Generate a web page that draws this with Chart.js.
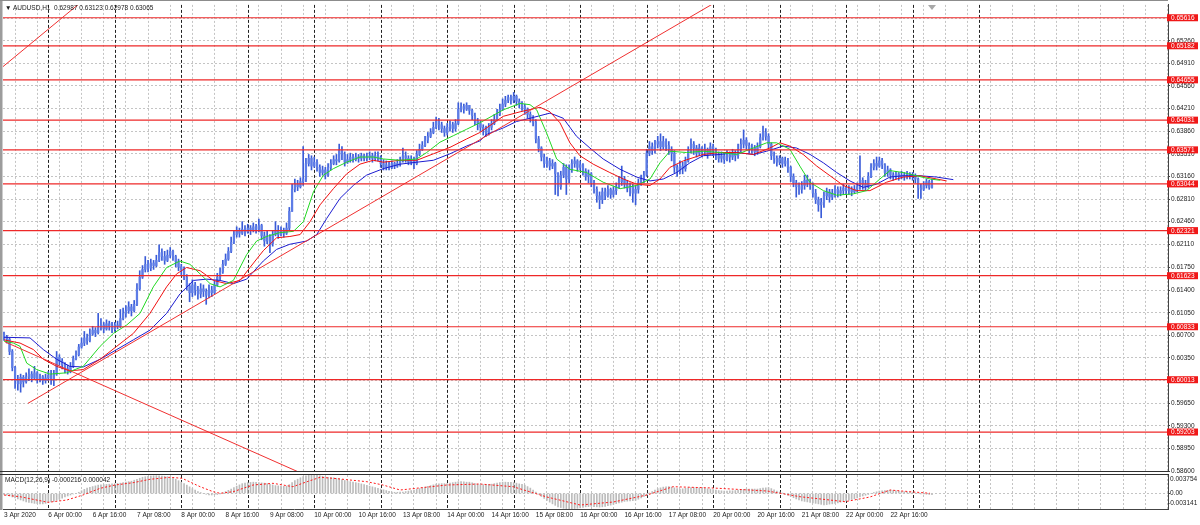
<!DOCTYPE html>
<html><head><meta charset="utf-8">
<script src="https://cdn.jsdelivr.net/npm/chart.js@4.4.1/dist/chart.umd.min.js"></script>
<style>
html,body{margin:0;padding:0;background:#fff;width:1200px;height:525px;overflow:hidden;}
#wrap{position:relative;width:1200px;height:525px;}
canvas{position:absolute;left:0;}
#main{top:0;width:1200px;height:480px;}
#macd{top:472px;width:1200px;height:53px;}
.lbl{position:absolute;font:6.5px "Liberation Sans",Arial,sans-serif;color:#1a1a1a;white-space:pre;line-height:8px;}
</style></head>
<body><div id="wrap">
<canvas id="main" width="1200" height="480"></canvas>
<canvas id="macd" width="1200" height="53"></canvas>
<div class="lbl" style="left:5px;top:4px">▼ AUDUSD,H1  0.62987 0.63123 0.62978 0.63065</div>
<div class="lbl" style="left:5px;top:476px">MACD(12,26,9) -0.000216 0.000042</div>
</div>
<script>
// ---------- DATA (prices in pips relative to 0.6000; bar index = hourly bar from 3 Apr 08:00) ----------
const BASE = 0.6, PIP = 0.0001;
const openFirstPips = 72;
const closePips = [68,64,45,20,0,-5,5,-2,6,10,4,12,2,6,0,4,8,2,10,36,
30,24,18,14,22,34,40,52,58,66,62,72,78,74,82,86,80,88,84,80,
86,84,96,104,108,114,108,118,142,160,172,180,174,182,178,186,198,192,186,194,
200,192,184,176,172,160,146,136,148,140,134,142,138,132,140,136,148,160,168,180,
188,200,214,226,232,228,234,230,236,232,238,234,240,224,216,222,212,226,232,226,
232,228,236,262,296,304,300,308,312,336,344,332,338,330,322,326,318,330,336,342,
340,356,350,338,342,346,342,346,344,348,344,346,348,344,348,346,336,330,334,330,
336,332,336,340,348,344,338,342,336,350,358,364,372,378,384,392,402,396,390,384,
392,396,390,398,420,424,420,426,418,410,402,398,392,388,384,392,398,404,412,420,
428,434,438,434,440,432,428,424,420,412,406,400,374,360,346,336,340,332,336,320,
300,318,330,312,326,336,340,330,334,324,316,320,306,296,286,280,292,286,296,288,
294,300,308,312,304,298,300,290,296,306,312,318,352,362,356,366,370,362,370,364,
358,352,330,324,332,328,340,356,366,360,352,360,354,358,350,362,356,350,344,348,
342,350,346,352,348,358,366,372,364,358,360,354,362,376,384,378,366,348,344,338,
344,336,340,330,316,306,300,296,302,310,306,302,290,280,272,276,286,292,284,290,
296,290,294,298,294,296,292,296,300,310,304,300,316,330,336,332,340,334,322,326,
318,316,320,316,318,316,320,318,316,312,298,296,302,308,299,306];
const highPips = [75,70,66,48,22,8,10,8,12,18,14,22,14,10,8,10,14,16,16,45,
40,34,28,24,28,38,46,56,66,76,72,80,84,82,104,96,90,94,92,90,
90,92,110,112,116,122,118,124,150,170,178,192,186,188,186,194,210,204,200,202,
206,202,194,188,180,176,164,150,156,152,146,150,148,142,148,146,154,166,174,186,
196,206,222,232,238,236,246,240,242,240,244,242,250,242,230,232,226,232,246,240,
238,236,244,268,304,312,310,314,362,344,350,348,346,342,334,332,330,336,342,348,
350,366,362,354,350,352,350,352,350,352,350,352,354,352,354,354,348,342,340,338,
340,338,342,346,360,354,348,348,346,356,366,370,378,384,390,400,408,406,400,394,
398,402,400,404,430,430,428,430,426,420,414,406,402,396,394,398,404,412,420,428,
436,440,442,442,446,442,436,432,428,422,416,410,404,378,362,350,346,344,342,338,
322,324,336,334,334,342,346,342,340,336,328,326,322,310,300,292,298,298,302,298,
300,306,316,332,316,310,306,304,302,312,318,324,358,370,368,372,378,382,378,374,
370,362,356,334,340,338,346,362,374,370,364,366,362,366,360,368,366,360,354,354,
352,356,354,358,356,366,374,388,376,368,366,364,368,382,394,390,382,368,354,348,
348,346,346,344,332,320,310,306,308,318,318,312,306,296,284,282,292,298,296,296,
302,300,300,304,300,302,300,302,306,348,314,310,322,336,342,346,346,344,336,332,
328,322,324,322,324,322,324,322,322,320,314,304,308,312,310,312];
const lowPips = [62,58,40,15,-12,-15,-18,-10,-4,0,-2,2,-4,-2,-6,-4,0,-6,-8,8,
24,18,12,10,12,20,32,38,50,54,56,60,70,68,72,78,74,78,78,74,
76,80,82,94,98,104,100,106,116,140,158,168,168,170,172,176,184,186,180,184,
190,186,176,170,164,156,140,122,130,132,126,128,130,118,128,130,134,146,156,166,
178,186,198,212,222,222,226,224,228,226,230,228,230,218,208,212,198,208,224,220,
224,222,226,232,262,292,294,298,302,308,332,326,330,324,316,318,312,316,326,334,
334,338,342,332,336,338,338,340,338,340,340,340,342,338,340,340,330,326,326,326,
328,328,330,332,338,338,334,334,328,334,348,356,362,368,376,382,390,388,384,378,
380,386,384,386,396,416,414,418,412,404,396,388,386,380,378,380,388,396,402,410,
418,424,430,428,430,426,422,418,412,406,400,394,368,354,340,330,330,326,328,288,
286,296,314,288,306,322,330,324,326,318,310,306,300,290,276,266,274,280,284,282,
284,288,298,302,298,292,286,276,272,290,302,306,316,348,350,352,360,356,358,356,
350,340,322,316,320,320,324,338,352,350,346,348,346,348,344,350,348,342,338,338,
336,340,338,342,340,344,354,360,358,352,352,348,350,360,372,372,360,342,336,332,
334,330,332,322,308,300,284,288,290,296,300,296,284,274,262,252,268,280,276,280,
284,284,286,288,288,288,286,290,292,296,296,294,298,314,326,326,330,328,316,316,
312,310,312,310,312,310,312,312,310,306,282,282,294,298,296,298];

// Alligator-style moving averages: [bar position], [pips]
const lipsX = [0,3.4,5.8,8.2,11.8,16.6,22.6,28.6,34.7,39.5,44.3,49.1,53.9,58.7,63.5,67.1,70.8,74.4,78,82.8,87.6,91.2,94.8,99.6,104.5,108.1,111.7,115.3,118.9,123.7,128.5,133.3,136.9,143,149,152.6,157.4,162.2,167,171.8,180.2,186.3,189.9,192.3,195.9,199.5,204.3,210.3,216.3,222.4,228.4,233.2,236.8,240.4,246.4,252.4,258.5,264.5,270.5,275.3,278.9,283.7,287.3,290.9,295.8,300.6,306.6,311.4,316.2,319.8,324.6,329.4,334.3,338];
const lipsPips = [61,58,53,27,17,10,12,22,53,73,86,104,145,175,185,180,165,150,145,155,195,216,223,229,231,246,292,318,328,338,346,346,343,341,343,353,369,379,389,399,419,429,427,419,383,343,327,322,307,297,302,312,337,355,353,355,353,350,360,368,368,358,332,307,294,287,289,294,312,325,322,317,312,310];
const teethX = [0,5.8,10.6,14.2,19,23.8,28.6,34.7,40.7,46.7,52.7,58.7,62.3,65.9,70.8,75.6,80.4,85.2,88.8,93.6,98.4,103.2,106.9,110.5,114.1,118.9,123.7,128.5,133.3,136.9,143,149,155,161,167,171.8,180.2,186.3,193.5,197.1,200.7,204.3,207.9,212.7,218.7,223.6,228.4,233.2,236.8,240.4,245.2,252.4,258.5,264.5,270.5,276.5,280.1,283.7,288.5,293.4,298.2,303,307.8,312.6,318.6,324.6,330.7,336.7,340.3];
const teethPips = [63,58,48,33,22,15,17,33,53,73,104,145,165,175,170,155,150,155,175,201,221,223,226,246,272,297,320,335,341,338,341,341,351,361,374,384,409,416,423,416,399,368,348,335,322,312,304,302,312,330,340,350,353,353,350,360,368,363,350,332,317,302,294,294,307,315,317,312,309];
const jawX = [0,9.4,14.2,19,23.8,28.6,34.7,40.7,46.7,52.7,58.7,63.5,68.4,73.2,78,82.8,87.6,93.6,98.4,103.2,109.3,112.9,116.5,121.3,126.1,130.9,136.9,143,149,155,161,167,171.8,174.2,180.2,185,189.9,197.1,201.9,206.7,211.5,216.3,222.4,228.4,233.2,238,242.8,247.6,252.4,258.5,264.5,270.5,275.3,281.3,286.1,291,295.8,300.6,305.4,310.2,315,319.8,324.6,330.7,336.7,342.7];
const jawPips = [67,66,48,33,22,21,33,48,63,78,104,134,155,157,155,150,157,185,203,211,216,226,251,282,302,318,328,335,338,341,351,363,371,381,391,401,406,414,406,378,360,343,327,315,309,312,322,337,348,350,353,350,355,363,360,350,337,322,309,299,304,315,317,317,315,311];

// Horizontal levels and trend lines
const levelPrices = [0.65616,0.65182,0.64655,0.64031,0.63571,0.63044,0.62321,0.61623,0.60833,0.60013,0.59203];
const trendBars = [[8.66,260],[-0.36,30],[0.36,110]];
const trendPrices = [[0.59648,0.65934],[0.64860,0.65935],[0.60599,0.58515]];

// MACD(12,26,9): main values per bar (x1e-6) and signal line points
const macdMain = [-200,-350,-500,-700,-900,-1100,-1300,-1500,-1700,-1800,-1900,-2000,-2050,-2100,-2100,-2000,
-1850,-1700,-1600,-1350,-1150,-950,-700,-500,-300,-100,0,250,550,850,1100,1250,
1400,1550,1700,1750,1800,1850,1900,1950,2000,2050,2100,2200,2300,2400,2500,2700,
2900,3100,3300,3400,3500,3550,3600,3620,3600,3550,3500,3400,3250,3100,2900,2600,
2300,2000,1700,1350,1000,700,400,200,0,-150,-300,-300,-250,-200,-100,150,
400,650,900,1200,1500,1750,2000,2100,2200,2250,2300,2250,2200,2150,2100,2000,
1850,1750,1600,1550,1500,1450,1500,1800,2200,2600,2900,3200,3450,3600,3700,3740,
3754,3700,3600,3500,3400,3300,3250,3200,3100,3000,2800,2650,2500,2400,2300,2200,
2100,1950,1800,1650,1500,1350,1200,1050,900,750,600,450,300,250,250,280,
300,400,500,600,700,850,1000,1150,1300,1450,1600,1750,1900,1950,2000,2000,
2000,2100,2200,2300,2400,2400,2350,2300,2300,2150,2000,1900,1800,1800,1850,1850,
1900,2000,2100,2200,2300,2300,2250,2250,2200,2100,1950,1850,1700,1400,1100,700,
300,-150,-600,-1000,-1400,-1750,-2100,-2400,-2700,-2850,-3000,-3100,-3141,-3100,-3050,-3000,
-2900,-2800,-2700,-2650,-2600,-2650,-2700,-2750,-2700,-2600,-2450,-2350,-2200,-2050,-1900,-1750,
-1600,-1550,-1500,-1450,-1400,-1150,-900,-600,-300,50,400,700,1000,1150,1300,1350,
1400,1300,1150,1000,900,950,1050,1150,1200,1200,1150,1150,1100,1050,950,900,
800,700,600,550,500,500,550,550,600,700,800,850,900,900,900,900,
900,1000,1100,1150,1200,1000,750,500,300,50,-150,-400,-600,-850,-1100,-1300,
-1500,-1600,-1700,-1800,-1900,-2000,-2100,-2200,-2300,-2250,-2150,-2100,-2000,-1900,-1750,-1600,
-1500,-1350,-1200,-1050,-900,-700,-500,-350,-200,0,200,350,500,550,600,650,
700,650,550,450,400,350,300,250,200,100,0,-50,-100,-150,-200,-216];
const signalX = [0,5.8,15.9,22.7,28.5,34.7,40.1,46.6,52.7,59.9,64.3,70.8,75.5,78,82.7,89.9,97.1,104.3,109.4,114.1,118.8,124.9,131,136.8,143,159.9,171.8,183.8,196,208,219.9,232.1,241.5,256,275.5,287.4,303.6,312.6,319.9,327.1,334.3];
const signalVals = [-305,-650,-1786,-1320,-305,1056,1726,2192,2883,3289,3086,1380,365,40,365,1726,2070,1380,2395,3289,3086,2740,2395,1726,710,1726,1929,1380,-710,-2335,-1726,-305,1380,1117,508,-650,-1665,-710,710,365,42];

// Axis ticks
const priceTicks = [0.65610,0.65260,0.64910,0.64560,0.64210,0.63860,0.63510,0.63160,0.62810,0.62460,0.62110,0.61750,0.61400,0.61050,0.60700,0.60350,0.60000,0.59650,0.59300,0.58950,0.58600];
const labelBars = [0,16,32,48,64,80,96,112,128,144,160,176,192,208,224,240,256,272,288,304,320];
const labelTexts = ['3 Apr 2020','6 Apr 00:00','6 Apr 16:00','7 Apr 08:00','8 Apr 00:00','8 Apr 16:00','9 Apr 08:00','10 Apr 00:00','10 Apr 16:00','13 Apr 08:00','14 Apr 00:00','14 Apr 16:00','15 Apr 08:00','16 Apr 00:00','16 Apr 16:00','17 Apr 08:00','20 Apr 00:00','20 Apr 16:00','21 Apr 08:00','22 Apr 00:00','22 Apr 16:00'];
const daySepBars = [16,40,64,88,112,136,160,184,208,232,256,280,304,328,352];
const macdAxisValues = [0.003754, 0, -0.003141];
const macdAxisLabels = ['0.003754','0.00','-0.003141'];

// ---------- CHART ----------
const XMIN = -0.36, XMAX = 420.2, YMIN = 0.5860, YMAX = 0.65815;
const gridBars = []; for (let b = 8; b <= 416; b += 8) gridBars.push(b);
const toPrice = p => BASE + p * PIP;
const FONT = '"Liberation Sans", Arial, sans-serif';
Chart.defaults.font.family = FONT;
Chart.defaults.font.size = 6.5;
Chart.defaults.color = '#1a1a1a';
const GRID = '#c4c4c4';

const daySeparators = {
  id: 'daySeparators',
  beforeDatasetsDraw(chart) {
    const {ctx, chartArea: a, scales: {x}} = chart;
    ctx.save(); ctx.strokeStyle = '#222'; ctx.lineWidth = 1; ctx.setLineDash([3, 2]);
    daySepBars.forEach(b => {
      const px = Math.round(x.getPixelForValue(b)) + 0.5;
      if (px < a.left || px > a.right) return;
      ctx.beginPath(); ctx.moveTo(px, a.top); ctx.lineTo(px, a.bottom); ctx.stroke();
    });
    ctx.restore();
  }
};

const mainDecor = {
  id: 'mainDecor',
  afterDraw(chart) {
    const {ctx, chartArea: a, scales: {x, y}} = chart;
    ctx.save();
    ctx.font = '6.5px ' + FONT; ctx.textBaseline = 'middle'; ctx.textAlign = 'left';
    levelPrices.forEach(p => {
      const py = y.getPixelForValue(p);
      ctx.fillStyle = '#f01818'; ctx.fillRect(a.right - 1, py - 3.5, 31, 7);
      ctx.fillStyle = '#ffffff'; ctx.fillText(p.toFixed(5), a.right + 3, py + 0.5);
    });
    // frame
    ctx.fillStyle = '#9c9c9c'; ctx.fillRect(0, 0, 2.5, a.bottom + 1);
    ctx.fillStyle = '#8c8c8c'; ctx.fillRect(0, 0, a.right, 1);
    ctx.fillStyle = '#303030'; ctx.fillRect(0, a.bottom, a.right + 1, 1);
    // chart shift marker above last bar
    const sx = x.getPixelForValue(closePips.length - 1);
    ctx.fillStyle = '#a8a8a8'; ctx.beginPath(); ctx.moveTo(sx - 4, a.top); ctx.lineTo(sx + 4, a.top); ctx.lineTo(sx, a.top + 5); ctx.closePath(); ctx.fill();
    ctx.restore();
  }
};

const macdDecor = {
  id: 'macdDecor',
  afterDraw(chart) {
    const {ctx, chartArea: a, scales: {y}} = chart;
    ctx.save();
    ctx.font = '6.5px ' + FONT; ctx.textBaseline = 'middle'; ctx.textAlign = 'left'; ctx.fillStyle = '#1a1a1a';
    macdAxisValues.forEach((v, i) => {
      let py = y.getPixelForValue(v);
      py = Math.min(Math.max(py, a.top + 4), a.bottom - 6);
      ctx.fillText(macdAxisLabels[i], a.right + (v < 0 ? 0 : 2), py);
    });
    ctx.fillStyle = '#9c9c9c'; ctx.fillRect(0, 0, 2.5, a.bottom + 1);
    ctx.fillStyle = '#303030'; ctx.fillRect(0, a.top - 1, a.right + 1, 1);
    ctx.restore();
  }
};

const baseOpts = {
  responsive: false, animation: false, devicePixelRatio: 1, events: [],
  plugins: {legend: {display: false}, tooltip: {enabled: false}}
};

const lineDs = (xs, ys, color, order) => ({
  type: 'line', data: xs.map((v, i) => ({x: v, y: toPrice(ys[i])})),
  borderColor: color, borderWidth: 1, pointRadius: 0, tension: 0, order
});

const mainDatasets = [
  {type: 'bar', data: closePips.map((c, i) => ({x: i, y: [toPrice(lowPips[i]), toPrice(highPips[i])]})),
   backgroundColor: '#3a5cd8', barThickness: 1, minBarLength: 1, grouped: false, order: 6},
  {type: 'bar', data: closePips.map((c, i) => ({x: i, y: [toPrice(i ? closePips[i - 1] : openFirstPips), toPrice(c)]})),
   backgroundColor: '#5d7ce6', barThickness: 1.6, minBarLength: 1, grouped: false, order: 5},
  lineDs(jawX, jawPips, '#1c1cd0', 4),
  lineDs(teethX, teethPips, '#f01010', 3),
  lineDs(lipsX, lipsPips, '#22d822', 2),
  ...levelPrices.map(p => ({type: 'line', data: [{x: XMIN, y: p}, {x: XMAX, y: p}],
     borderColor: '#ee2828', borderWidth: 1.2, pointRadius: 0, order: 1})),
  ...trendBars.map((bx, k) => ({type: 'line', data: [{x: bx[0], y: trendPrices[k][0]}, {x: bx[1], y: trendPrices[k][1]}],
     borderColor: '#f03030', borderWidth: 1, pointRadius: 0, order: 1}))
];

new Chart(document.getElementById('main'), {
  type: 'bar',
  data: {datasets: mainDatasets},
  options: Object.assign({}, baseOpts, {
    layout: {padding: {left: 3, top: 1, right: 0, bottom: 9}},
    scales: {
      x: {type: 'linear', min: XMIN, max: XMAX, offset: false,
          afterBuildTicks: s => { s.ticks = gridBars.map(v => ({value: v})); },
          afterFit: s => { s.height = 0; },
          ticks: {display: false},
          grid: {color: GRID, lineWidth: 1, drawTicks: false},
          border: {display: false, dash: [2, 2]}},
      y: {position: 'right', min: YMIN, max: YMAX,
          afterBuildTicks: s => { s.ticks = priceTicks.map(v => ({value: v})); },
          afterFit: s => { s.width = 32; },
          ticks: {padding: 1, color: '#1a1a1a', callback: v => Number(v).toFixed(5)},
          grid: {color: GRID, lineWidth: 1, tickColor: '#444', tickLength: 2, tickBorderDash: [], tickWidth: 1},
          border: {display: true, color: '#444', width: 1, dash: [2, 2]}}
    }
  }),
  plugins: [daySeparators, mainDecor]
});

new Chart(document.getElementById('macd'), {
  type: 'bar',
  data: {datasets: [
    {type: 'line', data: signalX.map((v, i) => ({x: v, y: signalVals[i] * 1e-6})),
     borderColor: '#ff1a1a', borderWidth: 1, borderDash: [2, 2], pointRadius: 0, order: 1},
    {type: 'bar', data: macdMain.map((v, i) => ({x: i, y: v * 1e-6})),
     backgroundColor: '#bcbcbc', barThickness: 1, grouped: false, order: 2}
  ]},
  options: Object.assign({}, baseOpts, {
    layout: {padding: {left: 3, top: 3, right: 0, bottom: 0}},
    scales: {
      x: {type: 'linear', min: XMIN, max: XMAX, offset: false,
          afterBuildTicks: s => { s.ticks = [0].concat(gridBars).map(v => ({value: v})); },
          afterFit: s => { s.height = 16; },
          ticks: {display: true, autoSkip: false, maxRotation: 0, minRotation: 0, align: 'start', padding: 2, color: '#1a1a1a',
                  callback: v => { const k = labelBars.indexOf(v); return k >= 0 ? labelTexts[k] : ''; }},
          grid: {color: c => (c.tick && c.tick.value === 0) ? 'rgba(0,0,0,0)' : GRID, lineWidth: 1, drawTicks: false},
          border: {display: true, color: '#444', width: 1, dash: [2, 2]}},
      y: {position: 'right', min: macdAxisValues[2], max: macdAxisValues[0],
          afterBuildTicks: s => { s.ticks = [{value: 0}]; },
          afterFit: s => { s.width = 32; },
          ticks: {display: false},
          grid: {color: GRID, lineWidth: 1, tickColor: '#444', tickLength: 2, tickBorderDash: []},
          border: {display: true, color: '#444', width: 1, dash: [2, 2]}}
    }
  }),
  plugins: [daySeparators, macdDecor]
});
</script>
</body></html>
